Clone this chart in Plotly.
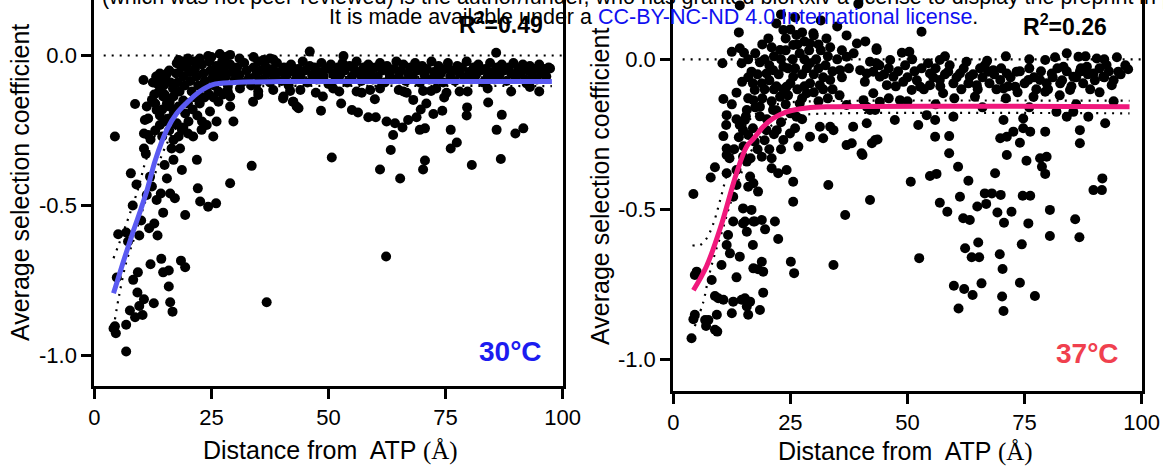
import plotly.graph_objects as go

# ---------------- data ----------------
# Left panel (30 °C): scattered points outside the dense plateau band
left_scatter = [
    (4.4,-0.27),(7.8,-0.393),(8.7,-0.162),(10.5,-0.082),(8.2,-0.5),(11.2,-0.17),(10.8,-0.215),(11.5,-0.21),
    (12.3,-0.148),(10.6,-0.26),(11.5,-0.265),(10.6,-0.31),(11.0,-0.328),(11.9,-0.404),(12.3,-0.437),(11.2,-0.465),
    (13.3,-0.482),(14.7,-0.524),(14.2,-0.46),(16.2,-0.46),(17.2,-0.476),(15.5,-0.41),(15.0,-0.365),(16.9,-0.348),
    (18.7,-0.382),(16.5,-0.31),(18.3,-0.31),(16.9,-0.282),(19.4,-0.532),(22.1,-0.443),(22.6,-0.487),(24.3,-0.504),
    (26.0,-0.493),(21.9,-0.348),(21.1,-0.27),(22.9,-0.248),(25.4,-0.27),(29.0,-0.426),(33.6,-0.368),(29.7,-0.22),
    (29.0,-0.17),(26.1,-0.22),(24.7,-0.187),(24.0,-0.232),(26.5,-0.154),(20.1,-0.22),(19.4,-0.193),(18.7,-0.248),
    (17.6,-0.226),(13.3,-0.182),(14.0,-0.232),(15.5,-0.215),(14.7,-0.137),(13.3,-0.093),(14.0,-0.06),(15.5,-0.06),
    (16.1,-0.154),(16.9,-0.137),(17.6,-0.026),(18.7,-0.02),(24.3,-0.002),(26.8,0.005),(29.0,0.002),(33.9,-0.154),
    (35.0,-0.132),(29.0,-0.137),(31.1,-0.11),(34.7,-0.093),(38.2,-0.115),(40.3,-0.143),(42.5,-0.154),(43.2,-0.17),
    (36.1,-0.015),(38.2,-0.013),(41.8,-0.037),
    (50.7,-0.34),(61.0,-0.38),(65.3,-0.41),(70.2,-0.38),(70.6,-0.35),(63.3,-0.315),(80.6,-0.365),(86.8,-0.345),
    (76.1,-0.31),(77.4,-0.29),(76.1,-0.248),(85.9,-0.248),(89.9,-0.26),(91.6,-0.243),(87.0,-0.198),(84.1,-0.157),
    (79.5,-0.2),(79.6,-0.173),(79.7,-0.12),(63.8,-0.265),(62.4,-0.22),(64.2,-0.226),(65.8,-0.24),(67.0,-0.215),
    (68.8,-0.206),(69.5,-0.248),(70.6,-0.243),(69.7,-0.18),(70.9,-0.16),(72.4,-0.195),(74.3,-0.184),(74.7,-0.14),
    (75.2,-0.124),(68.1,-0.148),(66.7,-0.124),(65.0,-0.115),(58.5,-0.206),(60.1,-0.206),(59.9,-0.146),(58.9,-0.115),
    (57.1,-0.124),(56.3,-0.19),(55.0,-0.182),(52.7,-0.16),(52.3,-0.12),(48.4,-0.184),(48.8,-0.137),(47.3,-0.124),
    (43.6,-0.176),(42.4,-0.154),(40.4,-0.137),(41.8,-0.118),(70.2,-0.118),(71.9,-0.118),(92.3,-0.093),(97.3,-0.043),
    (46.0,0.013),(85.8,0.009),(53.2,-0.002),
    (5.1,-0.596),(6.8,-0.59),(9.6,-0.6),(11.7,-0.576),(12.0,-0.696),(14.3,-0.678),(14.7,-0.723),(15.9,-0.717),
    (18.5,-0.684),(19.4,-0.706),(9.3,-0.723),(4.8,-0.74),(8.3,-0.748),(9.2,-0.79),(10.6,-0.813),(12.7,-0.826),
    (15.9,-0.77),(16.2,-0.823),(16.7,-0.854),(9.6,-0.835),(7.6,-0.85),(10.3,-0.865),(8.7,-0.873),(6.8,-0.898),
    (4.1,-0.91),(4.6,-0.926),(4.4,-0.903),(6.8,-0.987),(36.8,-0.823),(62.3,-0.67),
    (9.0,-0.43),(10.0,-0.55),(12.8,-0.56),(13.5,-0.6),(7.2,-0.62),
    (13.0,-0.16),(14.5,-0.18),(15.5,-0.16),(17.0,-0.19),(18.0,-0.17),(19.0,-0.15),(20.0,-0.16),(21.0,-0.18),
    (21.5,-0.14),(22.5,-0.16),(23.5,-0.14),(24.5,-0.13),(25.5,-0.14),(26.5,-0.12),(27.5,-0.13),(28.5,-0.12),
    (14.0,-0.2),(15.0,-0.22),(16.0,-0.21),(17.5,-0.23),(19.0,-0.24),(13.0,-0.25),(12.0,-0.28),(14.5,-0.27),
    (16.0,-0.25),(18.0,-0.27),(20.0,-0.26),(22.0,-0.2),(23.0,-0.22),
]

# Left panel: dense plateau band
left_band = [
    (12.5,-0.09),(13.2,-0.07),(14.0,-0.085),(14.8,-0.1),(15.2,-0.07),(16.0,-0.05),(16.3,-0.09),(16.8,-0.11),
    (13.8,-0.12),(15.0,-0.13),(12.8,-0.13),(16.0,-0.17),(17.5,-0.06),(17.8,-0.09),(18.2,-0.12),(18.6,-0.04),
    (19.0,-0.07),(19.3,-0.1),(19.8,-0.03),(20.2,-0.055),(20.5,-0.085),(20.8,-0.12),(21.3,-0.02),(21.5,-0.045),
    (21.8,-0.07),(22.2,-0.1),(22.5,-0.135),(23.0,-0.03),(23.3,-0.06),(23.6,-0.085),(24.0,-0.11),(24.5,-0.02),
    (24.8,-0.05),(25.2,-0.075),(25.6,-0.1),(26.0,-0.035),(26.4,-0.06),(26.9,-0.085),(27.3,-0.02),(27.7,-0.045),
    (28.1,-0.07),(28.5,-0.1),(29.0,-0.03),(29.5,-0.055),(30.0,-0.08),(30.5,-0.04),(31.0,-0.065),(31.5,-0.09),
    (32.0,-0.025),(32.5,-0.05),(33.0,-0.075),(33.5,-0.1),(34.0,-0.04),(34.5,-0.065),(35.0,-0.02),(35.5,-0.05),
    (36.0,-0.08),(36.5,-0.035),(37.0,-0.06),(37.5,-0.09),(38.0,-0.045),(38.5,-0.07),(39.0,-0.025),(39.5,-0.055),
    (40.0,-0.085),(40.5,-0.04),(41.0,-0.065),(41.5,-0.1),(42.0,-0.03),(42.5,-0.055),(43.0,-0.08),(43.5,-0.045),
    (44.0,-0.07),(44.5,-0.02),(45.0,-0.05),(45.5,-0.09),(46.0,-0.035),(46.5,-0.065),(47.0,-0.04),(47.5,-0.08),
    (48.0,-0.055),(48.5,-0.025),(49.0,-0.07),(49.5,-0.045),(50.0,-0.095),(50.5,-0.03),(51.0,-0.06),(51.5,-0.08),
    (52.0,-0.04),(52.5,-0.065),(53.0,-0.025),(53.5,-0.05),(54.0,-0.09),(54.5,-0.035),(55.0,-0.07),(55.5,-0.045),
    (56.0,-0.02),(56.5,-0.06),(57.0,-0.085),(57.5,-0.04),(58.0,-0.065),(58.5,-0.03),(59.0,-0.055),(59.5,-0.08),
    (60.0,-0.04),(60.5,-0.07),(61.0,-0.025),(61.5,-0.05),(62.0,-0.09),(62.5,-0.035),(63.0,-0.06),(63.5,-0.08),
    (64.0,-0.045),(64.5,-0.02),(65.0,-0.07),(65.5,-0.05),(66.0,-0.03),(66.5,-0.085),(67.0,-0.06),(67.5,-0.04),
    (68.0,-0.07),(68.5,-0.025),(69.0,-0.05),(69.5,-0.09),(70.0,-0.035),(70.5,-0.065),(71.0,-0.045),(71.5,-0.08),
    (72.0,-0.02),(72.5,-0.055),(73.0,-0.075),(73.5,-0.035),(74.0,-0.06),(74.5,-0.09),(75.0,-0.045),(75.5,-0.025),
    (76.0,-0.07),(76.5,-0.05),(77.0,-0.085),(77.5,-0.035),(78.0,-0.06),(78.5,-0.04),(79.0,-0.075),(79.5,-0.02),
    (80.0,-0.055),(80.5,-0.08),(81.0,-0.04),(81.5,-0.065),(82.0,-0.03),(82.5,-0.05),(83.0,-0.09),(83.5,-0.045),
    (84.0,-0.07),(84.5,-0.025),(85.0,-0.055),(85.5,-0.08),(86.0,-0.04),(86.5,-0.065),(87.0,-0.03),(87.5,-0.05),
    (88.0,-0.085),(88.5,-0.04),(89.0,-0.06),(89.5,-0.025),(90.0,-0.075),(90.5,-0.045),(91.0,-0.06),(91.5,-0.03),
    (92.0,-0.08),(92.5,-0.05),(93.0,-0.035),(93.5,-0.065),(94.0,-0.045),(94.5,-0.08),(95.0,-0.03),(95.5,-0.06),
    (96.0,-0.045),(96.5,-0.07),(97.0,-0.04),
    (18.0,-0.015),(20.0,-0.01),(22.5,-0.01),(25.0,-0.005),(28.0,-0.005),(31.0,-0.01),(34.0,-0.005),(37.5,-0.01),
    (35.0,-0.12),(44.0,-0.115),(51.0,-0.11),(56.0,-0.12),(61.0,-0.11),(66.0,-0.12),(73.0,-0.11),(78.0,-0.12),
    (84.0,-0.11),(89.0,-0.12),(93.0,-0.105),(95.0,-0.12),
]

# Right panel (37 °C): scattered points
right_scatter = [
    (4.3,-0.449),(8.0,-0.394),(8.9,-0.36),(10.7,-0.132),(10.5,-0.013),(12.5,0.025),(14.2,0.037),(15.1,0.022),
    (14.6,-0.013),(14.7,-0.075),(13.5,-0.111),(11.4,-0.186),(11.3,-0.219),(10.7,-0.256),(11.4,-0.297),(11.4,-0.319),
    (11.4,-0.38),(13.5,-0.369),(13.5,-0.419),(12.8,-0.458),(14.9,-0.325),(15.7,-0.341),(16.4,-0.391),(16.0,-0.425),
    (17.1,-0.413),(18.1,-0.441),(16.7,-0.502),(17.4,-0.541),(18.9,-0.536),(14.9,-0.497),(15.3,-0.541),(21.0,-0.363),
    (22.4,-0.38),(24.2,-0.369),(25.6,-0.408),(21.0,-0.33),(18.9,-0.325),(17.4,-0.275),(16.0,-0.252),(14.9,-0.236),
    (15.3,-0.202),(14.2,-0.219),(15.7,-0.169),(17.1,-0.136),(18.5,-0.158),(17.4,-0.102),(18.9,-0.08),(16.7,-0.041),
    (19.9,-0.047),(21.3,-0.036),(20.3,0.07),(22.8,0.031),(25.6,0.048),(23.5,-0.025),(25.6,-0.058),(24.2,-0.091),
    (22.8,-0.125),(21.3,-0.169),(19.9,-0.236),(22.1,-0.236),(23.5,-0.269),(24.9,-0.247),(26.7,-0.291),(26.3,-0.191),
    (27.0,-0.147),(28.5,-0.113),(29.2,-0.08),(29.2,-0.013),(29.2,0.053),(29.9,0.087),(26.3,0.081),(23.5,0.098),
    (29.2,-0.258),(32.0,-0.263),(31.3,-0.225),(33.1,-0.419),(25.6,-0.475),(36.7,-0.519),(33.5,-0.225),(34.2,-0.236),
    (37.0,-0.286),(38.1,-0.28),(38.4,-0.225),(37.0,-0.152),(31.3,-0.086),(33.5,-0.069),(35.6,-0.036),(37.0,0.009),
    (39.2,0.053),(32.7,0.07),(39.9,-0.036),(41.3,-0.047),(42.7,-0.113),(42.0,-0.169),(40.2,-0.313),(42.0,-0.469),
    (41.3,-0.213),(43.1,-0.269),(43.4,0.031),(43.4,-0.013),
    (53.0,0.092),(43.4,0.037),(48.8,0.022),(50.4,0.025),(42.0,-0.008),(46.3,-0.002),(54.4,-0.013),(56.9,-0.002),
    (62.6,-0.008),(79.4,-0.002),(81.5,0.007),(86.5,0.009),(90.4,0.003),(94.7,0.007),(97.1,-0.033),(95.0,-0.041),
    (92.5,-0.019),(93.6,-0.086),(91.8,-0.058),(89.7,-0.047),(88.3,-0.025),(86.8,-0.041),(85.4,-0.058),(83.3,-0.025),
    (84.7,-0.102),(82.6,-0.08),(80.8,-0.047),(79.7,-0.08),(78.3,-0.069),(79.4,-0.108),(76.9,-0.125),(75.8,-0.069),
    (73.3,-0.041),(73.0,-0.091),(71.2,-0.047),(69.8,-0.069),(70.5,-0.097),(68.3,-0.036),(67.2,-0.041),(65.5,-0.03),
    (64.4,-0.125),(64.8,-0.086),(63.3,-0.058),(61.2,-0.047),(59.8,-0.08),(58.7,-0.041),(57.6,-0.113),(56.9,-0.069),
    (54.8,-0.047),(54.8,-0.086),(52.7,-0.091),(50.9,-0.102),(49.1,-0.075),(47.0,-0.058),(45.6,-0.086),(44.1,-0.058),
    (42.7,-0.041),(40.9,-0.075),(41.3,-0.158),(43.1,-0.169),(44.1,-0.141),(47.3,-0.202),(48.4,-0.136),(52.3,-0.219),
    (54.1,-0.186),(55.9,-0.202),(59.8,-0.191),(55.9,-0.258),(58.9,-0.256),(58.9,-0.313),(60.8,-0.358),(63.0,-0.405),
    (61.2,-0.458),(56.9,-0.478),(58.5,-0.508),(54.8,-0.389),(56.2,-0.382),(50.7,-0.408),(43.6,-0.267),(42.4,-0.28),
    (40.4,-0.319),(61.9,-0.53),(63.3,-0.536),(64.9,-0.491),(66.8,-0.482),(66.5,-0.447),(68.0,-0.447),(69.9,-0.452),
    (68.7,-0.38),(69.2,-0.511),(70.6,-0.545),(72.2,-0.508),(74.6,-0.455),(76.2,-0.455),(75.8,-0.547),(80.4,-0.502),
    (85.8,-0.533),(89.7,-0.436),(91.5,-0.436),(91.6,-0.397),(71.2,-0.319),(75.4,-0.338),(78.3,-0.33),(79.7,-0.325),
    (78.7,-0.358),(79.4,-0.382),(74.0,-0.278),(69.8,-0.263),(71.2,-0.258),(72.6,-0.241),(74.7,-0.23),(76.2,-0.241),
    (79.4,-0.241),(74.7,-0.197),(70.5,-0.202),(86.8,-0.236),(86.8,-0.28),(92.2,-0.213),(88.6,-0.191),(84.0,-0.191),
    (85.4,-0.175),(81.8,-0.175),(40.6,-0.136),
    (3.9,-0.93),(4.3,-0.867),(4.6,-0.852),(5.0,-0.708),(4.6,-0.719),(6.8,-0.869),(7.0,-0.889),(7.5,-0.869),
    (8.2,-0.736),(8.9,-0.789),(9.3,-0.852),(8.9,-0.902),(9.4,-0.908),(9.6,-0.797),(10.7,-0.802),(10.3,-0.686),
    (11.4,-0.619),(12.1,-0.647),(11.7,-0.586),(12.5,-0.847),(12.8,-0.808),(13.5,-0.727),(14.2,-0.658),(14.6,-0.802),
    (15.3,-0.797),(16.4,-0.808),(16.0,-0.852),(15.7,-0.824),(18.5,-0.836),(19.2,-0.778),(17.1,-0.697),(18.1,-0.7),
    (19.2,-0.708),(18.9,-0.675),(17.0,-0.619),(19.6,-0.567),(22.4,-0.599),(21.7,-0.541),(15.7,-0.575),(12.8,-0.541),
    (14.9,-0.547),(17.1,-0.541),(25.1,-0.675),(25.8,-0.713),(34.2,-0.686),
    (52.5,-0.663),(62.3,-0.63),(65.1,-0.611),(63.7,-0.66),(65.3,-0.66),(69.7,-0.65),(70.3,-0.699),(74.4,-0.617),
    (80.4,-0.589),(86.7,-0.593),(59.9,-0.755),(62.1,-0.766),(63.9,-0.786),(65.8,-0.747),(60.9,-0.831),(70.2,-0.791),
    (70.5,-0.839),(74.0,-0.745),(77.2,-0.789),
]

# Right panel: dense cloud / plateau band
right_band = [
    (16.0,0.0),(17.5,0.02),(18.5,-0.01),(19.5,0.0),(20.5,-0.02),(21.5,0.01),(22.5,-0.05),(23.0,0.0),(24.0,0.03),
    (24.5,-0.03),(25.5,0.0),(26.0,-0.03),(27.0,0.02),(27.5,-0.05),(28.0,0.0),(28.5,-0.03),(29.0,0.03),(30.0,-0.05),
    (30.5,0.0),(31.0,-0.03),(31.5,0.03),(32.0,-0.06),(32.5,-0.02),(33.0,0.01),(34.0,-0.04),(35.0,0.0),(36.0,-0.06),
    (37.5,-0.03),(38.5,0.02),(16.0,-0.06),(17.0,-0.08),(18.0,-0.05),(19.5,-0.1),(20.5,-0.07),(21.5,-0.1),(22.0,-0.09),
    (23.5,-0.1),(24.5,-0.12),(25.0,-0.08),(26.5,-0.1),(27.5,-0.13),(28.0,-0.09),(30.0,-0.11),(31.0,-0.14),(32.0,-0.1),
    (33.0,-0.13),(34.0,-0.1),(35.5,-0.12),(16.0,-0.13),(17.5,-0.16),(18.5,-0.19),(19.0,-0.13),(20.0,-0.2),(21.0,-0.14),
    (22.0,-0.17),(23.0,-0.21),(24.0,-0.15),(25.0,-0.18),(26.0,-0.23),(27.5,-0.2),(12.5,-0.15),(13.5,-0.2),(14.0,-0.26),
    (15.0,-0.29),(12.0,-0.33),(13.0,-0.3),(16.5,-0.33),(18.0,-0.3),(19.5,-0.27),(20.5,-0.3),(21.5,-0.25),(23.0,-0.3),
    (17.0,-0.23),(15.5,-0.19),(19.0,0.05),(21.0,0.04),(26.5,0.05),(24.0,0.07),(28.0,0.06),(31.0,0.05),(33.5,0.04),
    (36.0,0.03),(14.0,0.09),(22.0,0.12),(25.0,0.1),(27.5,0.09),(30.0,0.08),(35.0,0.11),(39.5,0.185),(14.2,0.18),
    (23.0,0.15),(26.0,0.14),(31.5,0.13),(37.0,0.08),(41.0,0.06),
    (44.0,-0.02),(45.0,-0.05),(46.0,-0.03),(47.5,-0.09),(48.0,-0.04),(49.5,-0.02),(50.0,-0.06),(51.5,-0.04),
    (52.0,-0.07),(53.0,-0.03),(53.5,-0.1),(55.5,-0.06),(56.0,-0.03),(57.0,-0.09),(58.0,-0.05),(59.0,-0.02),
    (60.5,-0.06),(61.5,-0.1),(62.0,-0.03),(63.0,-0.08),(64.0,-0.05),(65.0,-0.1),(66.0,-0.06),(66.5,-0.02),
    (67.5,-0.08),(68.5,-0.05),(69.0,-0.1),(70.0,-0.03),(71.5,-0.09),(72.0,-0.06),(73.5,-0.11),(74.0,-0.04),
    (75.0,-0.08),(76.0,-0.03),(77.0,-0.06),(77.5,-0.1),(78.5,-0.04),(80.0,-0.1),(81.0,-0.06),(82.0,-0.03),
    (83.0,-0.07),(84.0,-0.04),(85.0,-0.09),(86.0,-0.06),(87.0,-0.03),(87.5,-0.08),(88.5,-0.05),(89.0,-0.1),
    (90.0,-0.07),(91.0,-0.03),(92.0,-0.06),(93.0,-0.04),(94.0,-0.07),(95.5,-0.05),(96.5,-0.02),(91.0,-0.11),
    (82.5,-0.12),(71.0,-0.13),(60.0,-0.13),(50.0,-0.14),(46.0,-0.13),(56.0,-0.15),(66.0,-0.16),(76.0,-0.16),
    (86.0,-0.15),(94.0,-0.14),(88.0,0.01),(84.0,0.02),(92.0,0.0),(76.0,0.0),(71.0,0.01),(67.0,-0.005),(58.0,0.01),
    (51.0,0.0),
]

# Fitted curves
left_fit_x = [4.1, 6.55, 8.4, 10.0, 11.3, 13.0, 15.5, 17.5, 19.8, 22.5, 25.3, 30.0, 40.0, 97.7]
left_fit_y = [-0.793, -0.67, -0.582, -0.51, -0.447, -0.35, -0.247, -0.195, -0.157, -0.12, -0.097, -0.09, -0.087, -0.087]
left_ci_up_x = [4.1, 6.4, 9.3, 11.0, 13.5, 15.5, 17.8, 20.5, 23.3, 28.0, 35.0, 97.7]
left_ci_up_y = [-0.676, -0.58, -0.447, -0.35, -0.247, -0.195, -0.157, -0.12, -0.097, -0.082, -0.075, -0.074]
left_ci_lo_x = [4.4, 5.3, 6.8, 8.5, 10.4, 13.3, 15.0, 17.5, 21.8, 24.5, 27.3, 32.0, 40.0, 97.7]
left_ci_lo_y = [-0.88, -0.8, -0.69, -0.61, -0.51, -0.38, -0.31, -0.24, -0.16, -0.13, -0.113, -0.104, -0.102, -0.102]

right_fit_x = [4.3, 7.1, 10.3, 13.5, 15.7, 17.1, 19.2, 21.3, 24.2, 28.5, 33.5, 97.4]
right_fit_y = [-0.77, -0.69, -0.55, -0.38, -0.29, -0.265, -0.225, -0.197, -0.175, -0.162, -0.158, -0.158]
right_ci_up_x = [4.1, 5.6, 7.0, 8.5, 10.0, 11.5, 13.0, 15.0, 17.0, 20.0, 24.0, 30.0, 97.4]
right_ci_up_y = [-0.62, -0.62, -0.6, -0.55, -0.47, -0.38, -0.3, -0.23, -0.19, -0.16, -0.145, -0.14, -0.138]
right_ci_lo_x = [4.6, 6.4, 7.5, 8.9, 10.5, 12.0, 14.5, 16.5, 18.5, 21.0, 24.0, 28.0, 35.0, 97.4]
right_ci_lo_y = [-0.89, -0.81, -0.73, -0.647, -0.57, -0.49, -0.38, -0.31, -0.26, -0.22, -0.2, -0.185, -0.18, -0.18]

zero_x = [2, 100]
zero_y = [0, 0]

x_ticks = [0, 25, 50, 75, 100]
y_ticks = [0.0, -0.5, -1.0]
y_tick_text = ["0.0", "-0.5", "-1.0"]

# ---------------- figure ----------------
FONT = "Liberation Sans, Arial, sans-serif"
fig = go.Figure()

def add_panel(xa, ya, band, scatter, fx, fy, ux, uy, lx, ly, color):
    dot = dict(color="black", width=2.2, dash="2px,6px")
    fig.add_trace(go.Scatter(x=zero_x, y=zero_y, mode="lines", line=dot, xaxis=xa, yaxis=ya, hoverinfo="skip"))
    fig.add_trace(go.Scatter(x=ux, y=uy, mode="lines", line=dict(dot, shape="spline"), xaxis=xa, yaxis=ya, hoverinfo="skip"))
    fig.add_trace(go.Scatter(x=lx, y=ly, mode="lines", line=dict(dot, shape="spline"), xaxis=xa, yaxis=ya, hoverinfo="skip"))
    pts = band + scatter
    fig.add_trace(go.Scatter(x=[p[0] for p in pts], y=[p[1] for p in pts], mode="markers",
                             marker=dict(color="black", size=10, line=dict(width=0)), xaxis=xa, yaxis=ya))
    fig.add_trace(go.Scatter(x=fx, y=fy, mode="lines", line=dict(color=color, width=5, shape="spline"),
                             xaxis=xa, yaxis=ya))

add_panel("x", "y", left_band, left_scatter, left_fit_x, left_fit_y,
          left_ci_up_x, left_ci_up_y, left_ci_lo_x, left_ci_lo_y, "#5a5af2")
add_panel("x2", "y2", right_band, right_scatter, right_fit_x, right_fit_y,
          right_ci_up_x, right_ci_up_y, right_ci_lo_x, right_ci_lo_y, "#f0187c")

axis_common = dict(showgrid=False, zeroline=False, showline=True, linecolor="black", linewidth=3,
                   ticks="outside", ticklen=10, tickwidth=3, tickcolor="black", automargin=False,
                   tickfont=dict(family=FONT, size=22, color="black"))

fig.update_layout(
    template="none",
    width=1163, height=473, autosize=False, showlegend=False,
    margin=dict(l=0, r=0, t=0, b=0, pad=0),
    paper_bgcolor="white", plot_bgcolor="white",
    xaxis=dict(axis_common, domain=[0.0811, 0.4838], range=[0, 100], tickvals=x_ticks, anchor="y"),
    yaxis=dict(axis_common, domain=[0.1839, 1.0], range=[-1.102, 0.185], tickvals=y_ticks,
               ticktext=y_tick_text, mirror=True, anchor="x"),
    xaxis2=dict(axis_common, domain=[0.5789, 0.9817], range=[0, 100], tickvals=x_ticks, anchor="y2"),
    yaxis2=dict(axis_common, domain=[0.1734, 1.0], range=[-1.106, 0.198], tickvals=y_ticks,
                ticktext=y_tick_text, mirror=True, anchor="x2"),
)

serif = "<span style=\"font-family:'Liberation Serif', 'DejaVu Serif', serif\">(Å)</span>"
NARROW = "Liberation Sans Narrow, Arial Narrow, " + FONT
ann = [
    dict(text="Average selection coefficient", x=0.0172, y=0.613, textangle=-90, font=dict(size=25)),
    dict(text="Average selection coefficient", x=0.5159, y=0.6068, textangle=-90, font=dict(size=25)),
    dict(text="Distance from  ATP " + serif, x=0.2838, y=0.0486, font=dict(size=25)),
    dict(text="Distance from  ATP " + serif, x=0.779, y=0.0444, font=dict(size=25)),
    dict(text="<b>R<sup>2</sup>=0.49</b>", x=0.4312, y=0.9514, font=dict(size=23)),
    dict(text="<b>R<sup>2</sup>=0.26</b>", x=0.9157, y=0.9471, font=dict(size=23)),
    dict(text="<b>30°C</b>", x=0.439, y=0.2579, font=dict(size=28, color="#1c1cf0")),
    dict(text="<b>37°C</b>", x=0.9355, y=0.2526, font=dict(size=28, color="#f0404e")),
    dict(text="It is made available under a <span style='color:#1010f0'>CC-BY-NC-ND 4.0 International license</span>.",
         x=0.5623, y=0.964, font=dict(size=21.5, family=NARROW)),
    dict(text="(which was not peer-reviewed) is the author/funder, who has granted bioRxiv a license to display the preprint in perpetuity.",
         x=0.086, y=1.006, xanchor="left", font=dict(size=21.5, family=NARROW)),
]
for a in ann:
    base = dict(xref="paper", yref="paper", showarrow=False, xanchor="center", yanchor="middle")
    base.update(a)
    f = dict(family=FONT, color="black")
    f.update(a.get("font", {}))
    base["font"] = f
    fig.add_annotation(**base)

fig.write_html("out.html", config={"responsive": False})
